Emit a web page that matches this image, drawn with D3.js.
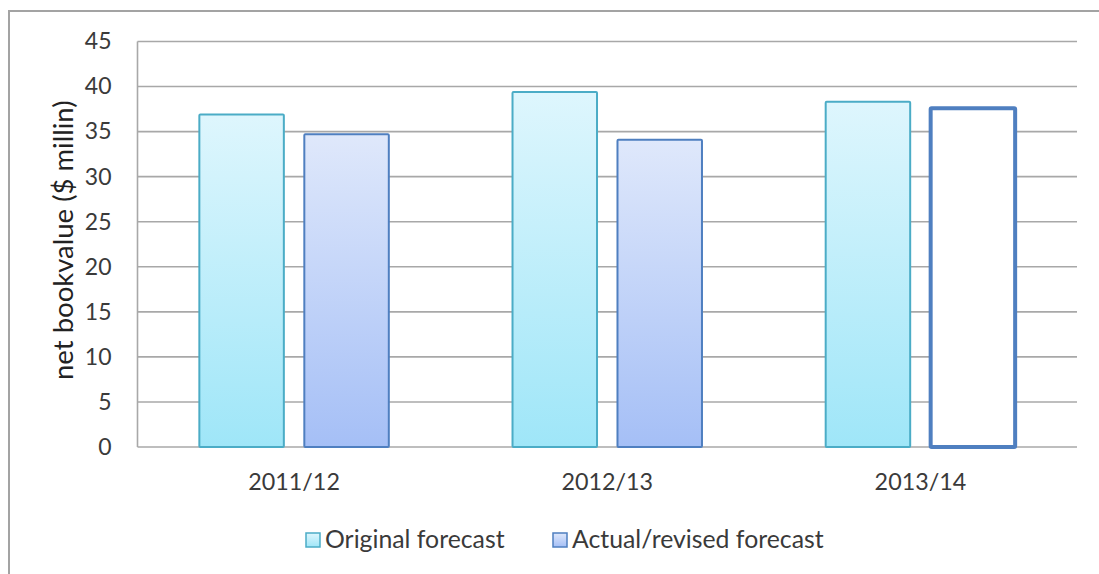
<!DOCTYPE html>
<html>
<head>
<meta charset="utf-8">
<script src="https://cdn.jsdelivr.net/npm/d3@7/dist/d3.min.js"></script>
<style>
  html, body { margin: 0; padding: 0; background: #fff; }
  svg { display: block; font-family: Lato, "Open Sans", sans-serif; }
</style>
</head>
<body>
<svg id="chart" width="1099" height="574"></svg>
<script>
// Net book value by year: original forecast vs actual / revised forecast ($ million)
const categories = ["2011/12", "2012/13", "2013/14"];
const seriesNames = ["Original forecast", "Actual/revised forecast"];
const originalForecast = [36.9, 39.4, 38.3];
const actualRevised = [34.7, 34.1, 37.6];
const yTicks = [0, 5, 10, 15, 20, 25, 30, 35, 40, 45];
const yTitle = "net bookvalue ($ millin)";

const svg = d3.select("#chart");
const W = 1099, H = 574;
const margin = { left: 137.5, right: 22, top: 41.5, bottom: 127 };
const plotW = W - margin.left - margin.right;
const plotH = H - margin.top - margin.bottom;

// outer chart frame (runs past the right and bottom edges)
svg.append("rect")
  .attr("x", 9).attr("y", 11)
  .attr("width", W + 20).attr("height", H + 20)
  .attr("fill", "#fff").attr("stroke", "#a3a3a3").attr("stroke-width", 2);

// gradients for the filled bars
const defs = svg.append("defs");
function addGrad(id, top, bottom) {
  const g = defs.append("linearGradient").attr("id", id)
    .attr("x1", 0).attr("y1", 0).attr("x2", 0).attr("y2", 1);
  g.append("stop").attr("offset", "0%").attr("stop-color", top);
  g.append("stop").attr("offset", "100%").attr("stop-color", bottom);
}
addGrad("gOrig", "#def6fd", "#9fe6f8");
addGrad("gAct", "#dfe8fb", "#a5bff6");

const g = svg.append("g").attr("transform", `translate(${margin.left},${margin.top})`);

const y = d3.scaleLinear().domain([0, 45]).range([plotH, 0]);
const x0 = d3.scaleBand().domain(categories).range([0, plotW])
  .paddingInner(0.395).paddingOuter(0.1975);
const x1 = d3.scaleBand().domain(seriesNames).range([0, x0.bandwidth()])
  .paddingInner(0.195).paddingOuter(0);

// horizontal gridlines
g.append("g").selectAll("line").data(yTicks).join("line")
  .attr("x1", 0).attr("x2", plotW)
  .attr("y1", d => y(d)).attr("y2", d => y(d))
  .attr("stroke", "#a8a8a8").attr("stroke-width", 1.6);

// vertical axis line
g.append("line").attr("x1", 0).attr("x2", 0).attr("y1", 0).attr("y2", plotH)
  .attr("stroke", "#a8a8a8").attr("stroke-width", 1.6);

// y axis labels
const yAxis = g.append("g").call(d3.axisLeft(y).tickValues(yTicks).tickSize(0).tickPadding(26));
yAxis.select(".domain").remove();
yAxis.selectAll("text")
  .attr("font-family", "Lato, sans-serif").attr("font-size", 23).attr("fill", "#3a3a3a");

// x axis labels
const xAxis = g.append("g").attr("transform", `translate(0,${plotH})`)
  .call(d3.axisBottom(x0).tickSize(0).tickPadding(26));
xAxis.select(".domain").remove();
xAxis.selectAll("text")
  .attr("font-family", "Lato, sans-serif").attr("font-size", 23.3).attr("fill", "#3a3a3a");

// bars
const rows = categories.map((c, i) => ({ cat: c, vals: [originalForecast[i], actualRevised[i]] }));
const groups = g.append("g").selectAll("g").data(rows).join("g")
  .attr("transform", d => `translate(${x0(d.cat)},0)`);

groups.selectAll("rect").data((d, i) => d.vals.map((v, j) => ({ v, j, i }))).join("rect")
  .attr("x", d => x1(seriesNames[d.j]))
  .attr("width", x1.bandwidth())
  .attr("y", d => y(d.v))
  .attr("height", d => y(0) - y(d.v))
  .attr("fill", d => d.j === 0 ? "url(#gOrig)" : (d.i === 2 ? "#fff" : "url(#gAct)"))
  .attr("stroke", d => d.j === 0 ? "#4bacc6" : "#4f7fc0")
  .attr("stroke-width", d => (d.j === 1 && d.i === 2) ? 4 : 2)
  .attr("rx", 1);

// y axis title
svg.append("text")
  .attr("transform", `translate(73,${margin.top + plotH / 2 - 4}) rotate(-90)`)
  .attr("text-anchor", "middle")
  .attr("font-family", "Lato, sans-serif").attr("font-size", 27.5).attr("fill", "#222")
  .text(yTitle);

// legend
const legend = svg.append("g");
const legendItems = [
  { name: seriesNames[0], x: 306, fill: "url(#gOrig)", stroke: "#4bacc6" },
  { name: seriesNames[1], x: 553, fill: "url(#gAct)", stroke: "#4f7fc0" }
];
const li = legend.selectAll("g").data(legendItems).join("g")
  .attr("transform", d => `translate(${d.x},533)`);
li.append("rect").attr("width", 14).attr("height", 14)
  .attr("fill", d => d.fill).attr("stroke", d => d.stroke).attr("stroke-width", 1.5);
li.append("text").attr("x", 19).attr("y", 15)
  .attr("font-family", "Lato, sans-serif").attr("font-size", 24.8).attr("fill", "#3a3a3a")
  .text(d => d.name);
</script>
</body>
</html>
